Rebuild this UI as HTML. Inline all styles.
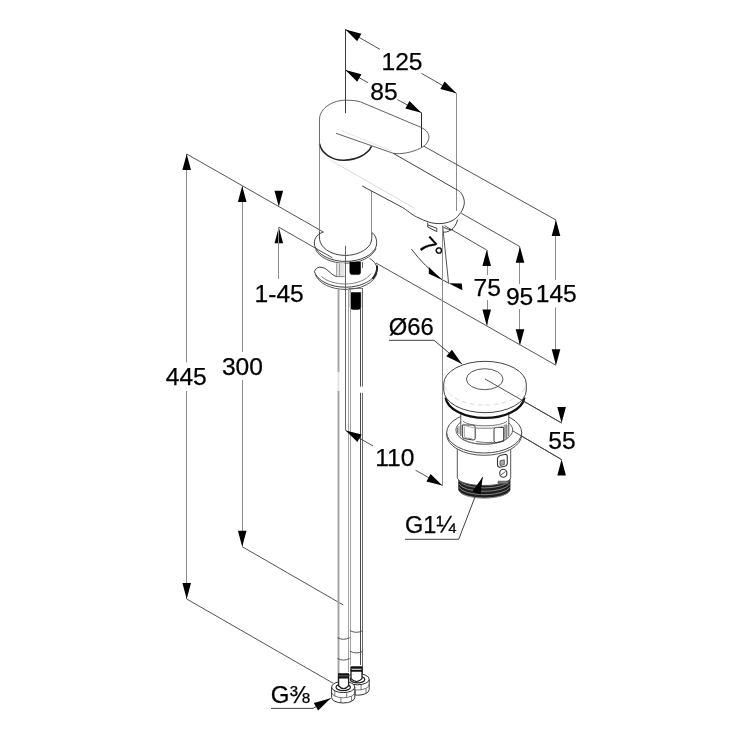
<!DOCTYPE html>
<html lang="en">
<head>
<meta charset="utf-8">
<title>Technical drawing</title>
<style>
html,body{margin:0;padding:0;background:#fff;}
body{width:750px;height:750px;overflow:hidden;}
svg{display:block;will-change:transform;}
svg text{font-family:"Liberation Sans",Arial,Helvetica,sans-serif;fill:#000;stroke:#000;stroke-width:0.25px;}
</style>
</head>
<body>
<svg width="750" height="750" viewBox="0 0 750 750">
<rect x="0" y="0" width="750" height="750" fill="#ffffff"/>
<line x1="345.5" y1="29.5" x2="345.5" y2="113.2" stroke="#3c3c3c" stroke-width="1" />
<line x1="345.4" y1="29.5" x2="380" y2="49.4" stroke="#404040" stroke-width="0.9" />
<line x1="421.3" y1="73.3" x2="456.4" y2="93.3" stroke="#404040" stroke-width="0.9" />
<polygon points="345.4,29.5 361.4,33.7 357.2,41.2" fill="#000"/>
<polygon points="456.4,93.3 440.4,89.1 444.6,81.6" fill="#000"/>
<text x="402" y="69.6" font-size="24.6" text-anchor="middle" >125</text>
<line x1="456.5" y1="93" x2="456.5" y2="211" stroke="#8c8c8c" stroke-width="1" />
<line x1="345.4" y1="70" x2="368" y2="82.7" stroke="#404040" stroke-width="0.9" />
<line x1="397.3" y1="99.5" x2="421.3" y2="112.7" stroke="#404040" stroke-width="0.9" />
<polygon points="345.4,70.0 361.4,74.2 357.2,81.7" fill="#000"/>
<polygon points="421.3,112.7 405.3,108.5 409.5,101.0" fill="#000"/>
<text x="384" y="100.2" font-size="24.6" text-anchor="middle" >85</text>
<line x1="421.5" y1="112.5" x2="421.5" y2="147" stroke="#2c2c2c" stroke-width="1" />
<line x1="423.5" y1="146" x2="556" y2="220" stroke="#404040" stroke-width="0.9" />
<line x1="461.3" y1="213.3" x2="520" y2="246.7" stroke="#404040" stroke-width="0.9" />
<line x1="444.5" y1="225.6" x2="486.7" y2="250" stroke="#404040" stroke-width="0.9" />
<line x1="376" y1="263" x2="556" y2="365.3" stroke="#404040" stroke-width="0.9" />
<line x1="555.5" y1="220" x2="555.5" y2="280" stroke="#8c8c8c" stroke-width="1" />
<line x1="555.5" y1="307.5" x2="555.5" y2="365.3" stroke="#8c8c8c" stroke-width="1" />
<polygon points="556.0,220.0 560.3,236.0 551.7,236.0" fill="#000"/>
<polygon points="556.0,365.3 551.7,349.3 560.3,349.3" fill="#000"/>
<text x="556.3" y="301.8" font-size="24.6" text-anchor="middle" >145</text>
<line x1="519.5" y1="246.7" x2="519.5" y2="284" stroke="#8c8c8c" stroke-width="1" />
<line x1="519.5" y1="309" x2="519.5" y2="345.3" stroke="#8c8c8c" stroke-width="1" />
<polygon points="520.0,246.7 524.3,262.7 515.7,262.7" fill="#000"/>
<polygon points="520.0,345.3 515.7,329.3 524.3,329.3" fill="#000"/>
<text x="519.6" y="305" font-size="24.6" text-anchor="middle" >95</text>
<line x1="487.5" y1="250" x2="487.5" y2="275" stroke="#8c8c8c" stroke-width="1" />
<line x1="487.5" y1="300" x2="487.5" y2="325.5" stroke="#8c8c8c" stroke-width="1" />
<polygon points="486.7,250.0 491.0,266.0 482.4,266.0" fill="#000"/>
<polygon points="486.7,325.5 482.4,309.5 491.0,309.5" fill="#000"/>
<text x="487.3" y="296.2" font-size="24.6" text-anchor="middle" >75</text>
<line x1="186.7" y1="154" x2="323.4" y2="232" stroke="#404040" stroke-width="0.9" />
<line x1="278.8" y1="227.2" x2="332.4" y2="257.8" stroke="#404040" stroke-width="0.9" />
<line x1="186.5" y1="154" x2="186.5" y2="362.3" stroke="#8c8c8c" stroke-width="1" />
<line x1="186.5" y1="391" x2="186.5" y2="599" stroke="#8c8c8c" stroke-width="1" />
<polygon points="186.7,154.0 191.0,170.0 182.4,170.0" fill="#000"/>
<polygon points="186.7,599.0 182.4,583.0 191.0,583.0" fill="#000"/>
<text x="186.3" y="385" font-size="24.6" text-anchor="middle" >445</text>
<line x1="242.5" y1="186" x2="242.5" y2="352" stroke="#8c8c8c" stroke-width="1" />
<line x1="242.5" y1="380" x2="242.5" y2="546.7" stroke="#8c8c8c" stroke-width="1" />
<polygon points="242.2,186.0 246.5,202.0 237.9,202.0" fill="#000"/>
<polygon points="242.2,546.7 237.9,530.7 246.5,530.7" fill="#000"/>
<text x="242.4" y="374.7" font-size="24.6" text-anchor="middle" >300</text>
<polygon points="278.8,206.8 274.5,190.8 283.1,190.8" fill="#000"/>
<polygon points="278.8,227.2 283.1,243.2 274.5,243.2" fill="#000"/>
<line x1="278.5" y1="227.2" x2="278.5" y2="279" stroke="#8c8c8c" stroke-width="1" />
<text x="279.2" y="302" font-size="24.6" text-anchor="middle" >1-45</text>
<line x1="242.2" y1="546.7" x2="343.3" y2="605" stroke="#404040" stroke-width="0.9" />
<line x1="186.7" y1="599" x2="333.3" y2="683.3" stroke="#404040" stroke-width="0.9" />
<line x1="485" y1="379" x2="561.6" y2="423" stroke="#404040" stroke-width="0.9" />
<line x1="513" y1="431" x2="561.6" y2="459.6" stroke="#404040" stroke-width="0.9" />
<polygon points="561.6,423.0 557.3,407.0 565.9,407.0" fill="#000"/>
<polygon points="561.6,459.6 565.9,475.6 557.3,475.6" fill="#000"/>
<text x="562" y="449.3" font-size="24.6" text-anchor="middle" >55</text>
<line x1="442.6" y1="225.6" x2="448.6" y2="283.2" stroke="#404040" stroke-width="0.9" />
<path d="M411.4 249 Q424 266 442 279.6 L448.6 283.2" stroke="#404040" stroke-width="1" fill="none" />
<polygon points="428.8,267 428.8,273.8 442.2,279.9" fill="#000"/>
<polygon points="448.6,283.2 461.8,283.4 462.4,290.2" fill="#000"/>
<text font-size="23.5" transform="translate(417.2,246) rotate(48)" x="0" y="0">7°</text>
<path d="M319.5 143.7 V119.5 C319.5 108 333 100 346 100.2 C352 100.3 356 100.5 360.3 101.8 L420.9 127.3 C427 130 430 134.5 428.6 139.5 C427.5 143.5 424.5 146.5 420.9 148 C412 152.5 401 154.5 393.2 153.3 L336 133.3" stroke="#505050" stroke-width="0.9" fill="none" />
<path d="M341 130.5 L392 151.2" stroke="#dedede" stroke-width="0.8" fill="none" />
<path d="M319.5 143.7 C321 153 332 160.5 344 160.2 C356 160 368 154.5 371.5 146.3" stroke="#222" stroke-width="1.6" fill="none" />
<line x1="319.5" y1="119.5" x2="319.5" y2="231.4" stroke="#707070" stroke-width="0.8" />
<line x1="371.5" y1="191" x2="371.5" y2="233" stroke="#707070" stroke-width="0.8" />
<path d="M393.2 153.3 L455.8 189.2 C457.5 190 459.5 191 460.6 192.4 C462 194 463 196 463.8 198.8 C464.5 201 464.5 203.5 463.8 206 C463 209 461.5 212 459 214.8 C457 217.5 454.5 219.6 451 221.2 C448 222.6 444 223.5 439.8 223.6 C436 223.7 432 223.2 428.6 222 C425.5 221 422 219.6 419 218 C416 216.8 413 215 409.4 212.4 C407 210.5 404 208.2 399.8 206 L362.2 186" stroke="#404040" stroke-width="1" fill="none" />
<path d="M331 160.5 L415 208.5" stroke="#dcdcdc" stroke-width="1" fill="none" />
<path d="M427.7 222.6 V227 L436.8 231.6 V228.2" stroke="#404040" stroke-width="1" fill="none" />
<path d="M428 225 L436.8 228.2" stroke="#404040" stroke-width="1" fill="none" />
<path d="M442 232.2 C448 232.6 455 230 457.6 219.6" stroke="#404040" stroke-width="1" fill="none" />
<path d="M443.2 227 C447 229.5 451 230 453 229.6" stroke="#404040" stroke-width="1" fill="none" />
<path d="M323.4 232 C316 234.5 313.5 240 314.5 245 C316.5 254 330 261.4 345.6 261.4 C361 261.4 374 254.5 376.3 246 C377.5 240 375.5 235 372 232.6" stroke="#404040" stroke-width="1" fill="none" />
<path d="M319.5 231.4 C319 238 319.5 242 322 245.5 C327 252 336 255.4 345.6 255.4 C356 255.4 366 251 370 244.5 C372 241 372 237 371.8 233" stroke="#404040" stroke-width="1" fill="none" />
<path d="M315.5 249.5 C319.5 257.5 331 263.2 345.6 263.2 C360 263.2 372 257.5 376 248.5" stroke="#404040" stroke-width="0.9" fill="none" />
<path d="M369.6 258.4 C375 261.5 377.5 266 377 270.5 C375.5 280 361 287.2 345.6 287.2 C330 287.2 317 280.5 314.4 271.6 C315 269.5 317 267.6 319.5 267.2 C323 266.8 326 268.8 329 271.5 C332 274.3 334 276 337 276.6 L344.5 276.6" stroke="#404040" stroke-width="1" fill="none" />
<path d="M315.3 274.5 C319 283.5 331 289.4 345.6 289.4 C361 289.4 374.5 283 377 273" stroke="#404040" stroke-width="0.9" fill="none" />
<path d="M321.5 276.5 C327 281.5 336 284 345.6 284 C356 284 367 280 371 273.5" stroke="#666" stroke-width="0.8" fill="none" />
<path d="M377 265.5 C377.6 270 376.5 274 372.5 278.8" stroke="#222" stroke-width="2" fill="none" />
<line x1="345.5" y1="245.8" x2="345.5" y2="430.3" stroke="#555" stroke-width="0.9" />
<path d="M349.8 262 H360.6 V272 Q360.6 274.6 358 274.6 H352.4 Q349.8 274.6 349.8 272 Z" stroke="#000" stroke-width="0.5" fill="#000" />
<path d="M350.2 292.6 H360.8 V307 Q360.8 309.4 358 309.4 H353 Q350.2 309.4 350.2 307 Z" stroke="#000" stroke-width="0.5" fill="#000" />
<path d="M348.9 292.6 V288.4 H362.4 V292.6" stroke="#555" stroke-width="0.8" fill="none" />
<path d="M336.8 262.8 H344.6 V276.4 H336.8 Z" stroke="none" stroke-width="0" fill="#e4e4e4" />
<path d="M336.6 263.2 V276 M339.6 263.2 V276" stroke="#888" stroke-width="0.8" fill="none" />
<path d="M362.5 262 V268" stroke="#404040" stroke-width="0.8" fill="none" />
<line x1="338.5" y1="288.5" x2="338.5" y2="686" stroke="#a2a2a2" stroke-width="1.9" />
<line x1="348.5" y1="288.5" x2="348.5" y2="672" stroke="#a2a2a2" stroke-width="1" />
<line x1="350.5" y1="290" x2="350.5" y2="665" stroke="#a2a2a2" stroke-width="1" />
<line x1="360.5" y1="308" x2="360.5" y2="665" stroke="#4a4a4a" stroke-width="1" />
<line x1="362.5" y1="288" x2="362.5" y2="676" stroke="#6a6a6a" stroke-width="1" />
<rect x="358.8" y="386.6" width="5.5" height="6.2" fill="#fff"/>
<rect x="336" y="372" width="4.5" height="19" fill="#fff" fill-opacity="0.7"/>
<path d="M337.4 637.7 Q343.5 640.9000000000001 349.6 637.7" stroke="#444" stroke-width="0.9" fill="none" />
<path d="M337.4 658.5 Q343.5 661.7 349.6 658.5" stroke="#444" stroke-width="0.9" fill="none" />
<path d="M350 630.7 Q356.4 633.9000000000001 362.8 630.7" stroke="#444" stroke-width="0.9" fill="none" />
<path d="M350 651.3 Q356.4 654.5 362.8 651.3" stroke="#444" stroke-width="0.9" fill="none" />
<path d="M346.0 679.2 V689.6 A11.6 5.6 0 0 0 369.20000000000005 689.6 V679.2" stroke="#333" stroke-width="1" fill="#fff" />
<path d="M346.0 684.4000000000001 A11.6 5.6 0 0 0 369.20000000000005 684.4000000000001" stroke="#555" stroke-width="0.8" fill="none" />
<ellipse cx="357.6" cy="679.2" rx="11.6" ry="5.6" stroke="#333" stroke-width="1" fill="#fff" />
<ellipse cx="357.6" cy="679.4000000000001" rx="7.192" ry="3.472" stroke="#222" stroke-width="1.2" fill="#fff" />
<path d="M355.3 689.9 v5.2" stroke="#555" stroke-width="0.8" fill="none" />
<path d="M366.0 688.3 v5.2" stroke="#555" stroke-width="0.8" fill="none" />
<path d="M349.2 683.1 v5.2" stroke="#555" stroke-width="0.8" fill="none" />
<path d="M361.1 684.5 v5.2" stroke="#555" stroke-width="0.8" fill="none" />
<path d="M331.59999999999997 687 V697.4 A11.6 5.6 0 0 0 354.8 697.4 V687" stroke="#333" stroke-width="1" fill="#fff" />
<path d="M331.59999999999997 692.2 A11.6 5.6 0 0 0 354.8 692.2" stroke="#555" stroke-width="0.8" fill="none" />
<ellipse cx="343.2" cy="687" rx="11.6" ry="5.6" stroke="#333" stroke-width="1" fill="#fff" />
<ellipse cx="343.2" cy="687.2" rx="7.192" ry="3.472" stroke="#222" stroke-width="1.2" fill="#fff" />
<path d="M340.9 697.7 v5.2" stroke="#555" stroke-width="0.8" fill="none" />
<path d="M351.6 696.1 v5.2" stroke="#555" stroke-width="0.8" fill="none" />
<path d="M334.8 690.9 v5.2" stroke="#555" stroke-width="0.8" fill="none" />
<path d="M346.7 692.3 v5.2" stroke="#555" stroke-width="0.8" fill="none" />
<path d="M351 668 V678.6 Q356.5 684.5 362 678.6 V668 Z" stroke="#222" stroke-width="1.3" fill="#fff" />
<path d="M338.6 676 V685.8 Q343.6 691.5 348.6 685.8 V676 Z" stroke="#222" stroke-width="1.3" fill="#fff" />
<path d="M350.6 667.2 H362.4 M350.6 670.8 H362.4" stroke="#111" stroke-width="2" fill="none" />
<path d="M338 674.3 H349 M338 677.6 H349" stroke="#111" stroke-width="2" fill="none" />
<path d="M458.7 476 V489.5 A25.65 8.5 0 0 0 510 489.5 V476" stroke="#1e1e1e" stroke-width="0.8" fill="#1e1e1e" />
<path d="M459.2 480.6 A25.4 8.5 0 0 0 509.5 480.6" stroke="#c4c4c4" stroke-width="0.6" fill="none" />
<path d="M459.2 484.0 A25.4 8.5 0 0 0 509.5 484.0" stroke="#c4c4c4" stroke-width="0.6" fill="none" />
<path d="M459.2 487.40000000000003 A25.4 8.5 0 0 0 509.5 487.40000000000003" stroke="#c4c4c4" stroke-width="0.6" fill="none" />
<path d="M459.2 490.8 A25.4 8.5 0 0 0 509.5 490.8" stroke="#c4c4c4" stroke-width="0.6" fill="none" />
<path d="M457.3 440 V477.5 A26.7 8 0 0 0 510.7 477.5 V440" stroke="#555" stroke-width="1" fill="#fff" />
<path d="M497.5 459.3 q0 -3 3.5 -4 l4.3 -1 q2 0 2 2.5 v6.5 q0 2.5 -2.5 3 l-4.8 1 q-2.5 0 -2.5 -2.5 z" stroke="#333" stroke-width="1.1" fill="none" />
<path d="M500 460.8 l4.3 -1 v4.8 l-4.3 1 z" stroke="#444" stroke-width="0.8" fill="#aaa" />
<ellipse cx="503.3" cy="473.2" rx="3.6" ry="4" stroke="#333" stroke-width="1.1" fill="none" />
<path d="M501 475 l4.6 -3.6" stroke="#444" stroke-width="0.9" fill="none" />
<path d="M498 481.2 h10.5 v2.6 h-10.5 z" stroke="#444" stroke-width="0.6" fill="#777" />
<path d="M446.7 432.5 V434.8 A37.5 20.5 0 0 0 521.7 434.8 V432.5" stroke="#404040" stroke-width="0.9" fill="#fff" />
<ellipse cx="484.2" cy="432.5" rx="37.5" ry="20.5" stroke="#4a4a4a" stroke-width="1" fill="#fff" />
<ellipse cx="484.3" cy="430" rx="28.4" ry="14.2" stroke="#4a4a4a" stroke-width="0.9" fill="#fff" />
<path d="M458.5 436 A27 12 0 0 0 510 436" stroke="#777" stroke-width="0.8" fill="none" />
<path d="M460.8 408 V423 A24 7.5 0 0 0 508.8 423 V408 Z" stroke="none" stroke-width="0.9" fill="#fff" />
<path d="M460.8 412 V436 M508.8 412 V436" stroke="#404040" stroke-width="0.9" fill="none" />
<path d="M462.3 425 h10.5 q2.4 0 2.4 2.2 v11 q0 2 -2.2 1.8 l-8.4 -1.4 q-2.3 -0.4 -2.3 -2.6 z" stroke="#333" stroke-width="1" fill="none" />
<path d="M464.3 426.5 v9.5 q0 1.6 1.8 1.9 l6.5 1" stroke="#777" stroke-width="0.7" fill="none" />
<path d="M494 429.6 q0 -2.2 2 -2.2 h7.7 v13.8 l-7.5 1.4 q-2.2 0.3 -2.2 -1.9 z" stroke="#333" stroke-width="1" fill="none" />
<path d="M505 425 v13.6 M506.8 425 v13" stroke="#444" stroke-width="0.9" fill="none" />
<path d="M459 426 v8 M457.5 427.5 v5.5" stroke="#555" stroke-width="0.8" fill="none" />
<path d="M476 441.6 A30 8 0 0 0 494 442.5" stroke="#555" stroke-width="0.8" fill="none" />
<path d="M475.2 428 H494" stroke="#999" stroke-width="0.7" fill="none" />
<path d="M463 421.3 A24 7.5 0 0 0 507 421.3" stroke="#555" stroke-width="0.8" fill="none" />
<path d="M463 424 A24 7.5 0 0 0 507 424" stroke="#888" stroke-width="0.7" fill="none" />
<path d="M445.6 397.5 A39.5 22 0 0 0 524.4 397.5" stroke="#111" stroke-width="2.3" fill="none" />
<path d="M443.7 384 A41.3 22.7 0 0 1 526.3 384 V390 A41.3 22.7 0 0 1 443.7 390 Z" stroke="#444" stroke-width="1" fill="#fff" />
<path d="M444.5 386 A41 22.6 0 0 0 525.5 386" stroke="#cfcfcf" stroke-width="0.8" fill="none" stroke-dasharray="5 3"/>
<ellipse cx="484.7" cy="379.2" rx="18.3" ry="10.5" stroke="#444" stroke-width="0.9" fill="none" />
<line x1="485" y1="379" x2="561.6" y2="423" stroke="#404040" stroke-width="0.9" />
<line x1="513" y1="431" x2="561.6" y2="459.6" stroke="#404040" stroke-width="0.9" />
<line x1="345.6" y1="430.4" x2="373" y2="445.9" stroke="#404040" stroke-width="0.9" />
<line x1="415.6" y1="470.2" x2="442.4" y2="485.6" stroke="#404040" stroke-width="0.9" />
<polygon points="345.6,430.4 361.6,434.6 357.4,442.1" fill="#000"/>
<polygon points="442.4,485.6 426.4,481.4 430.6,473.9" fill="#000"/>
<text x="394.8" y="465.8" font-size="24.6" text-anchor="middle" >110</text>
<line x1="442.5" y1="228" x2="442.5" y2="485.6" stroke="#8c8c8c" stroke-width="1" />
<text x="388.8" y="334.6" font-size="23.8" text-anchor="start" >Ø66</text>
<path d="M389 340.3 H434 L462 364" stroke="#404040" stroke-width="1" fill="none" />
<polygon points="462.0,364.0 446.3,356.2 451.9,349.7" fill="#000"/>
<text x="405" y="533.2" font-size="23.5" text-anchor="start" >G1¼</text>
<path d="M405 539.3 H458.7 L482.7 477" stroke="#404040" stroke-width="1" fill="none" />
<polygon points="482.7,477.0 480.5,494.4 472.5,491.3" fill="#000"/>
<text x="270.8" y="702.8" font-size="24" text-anchor="start" >G⅜</text>
<path d="M271 708.4 H313 L330.7 698.3" stroke="#404040" stroke-width="1" fill="none" />
<polygon points="330.7,698.3 318.1,710.5 313.8,703.0" fill="#000"/>
</svg>
</body>
</html>
